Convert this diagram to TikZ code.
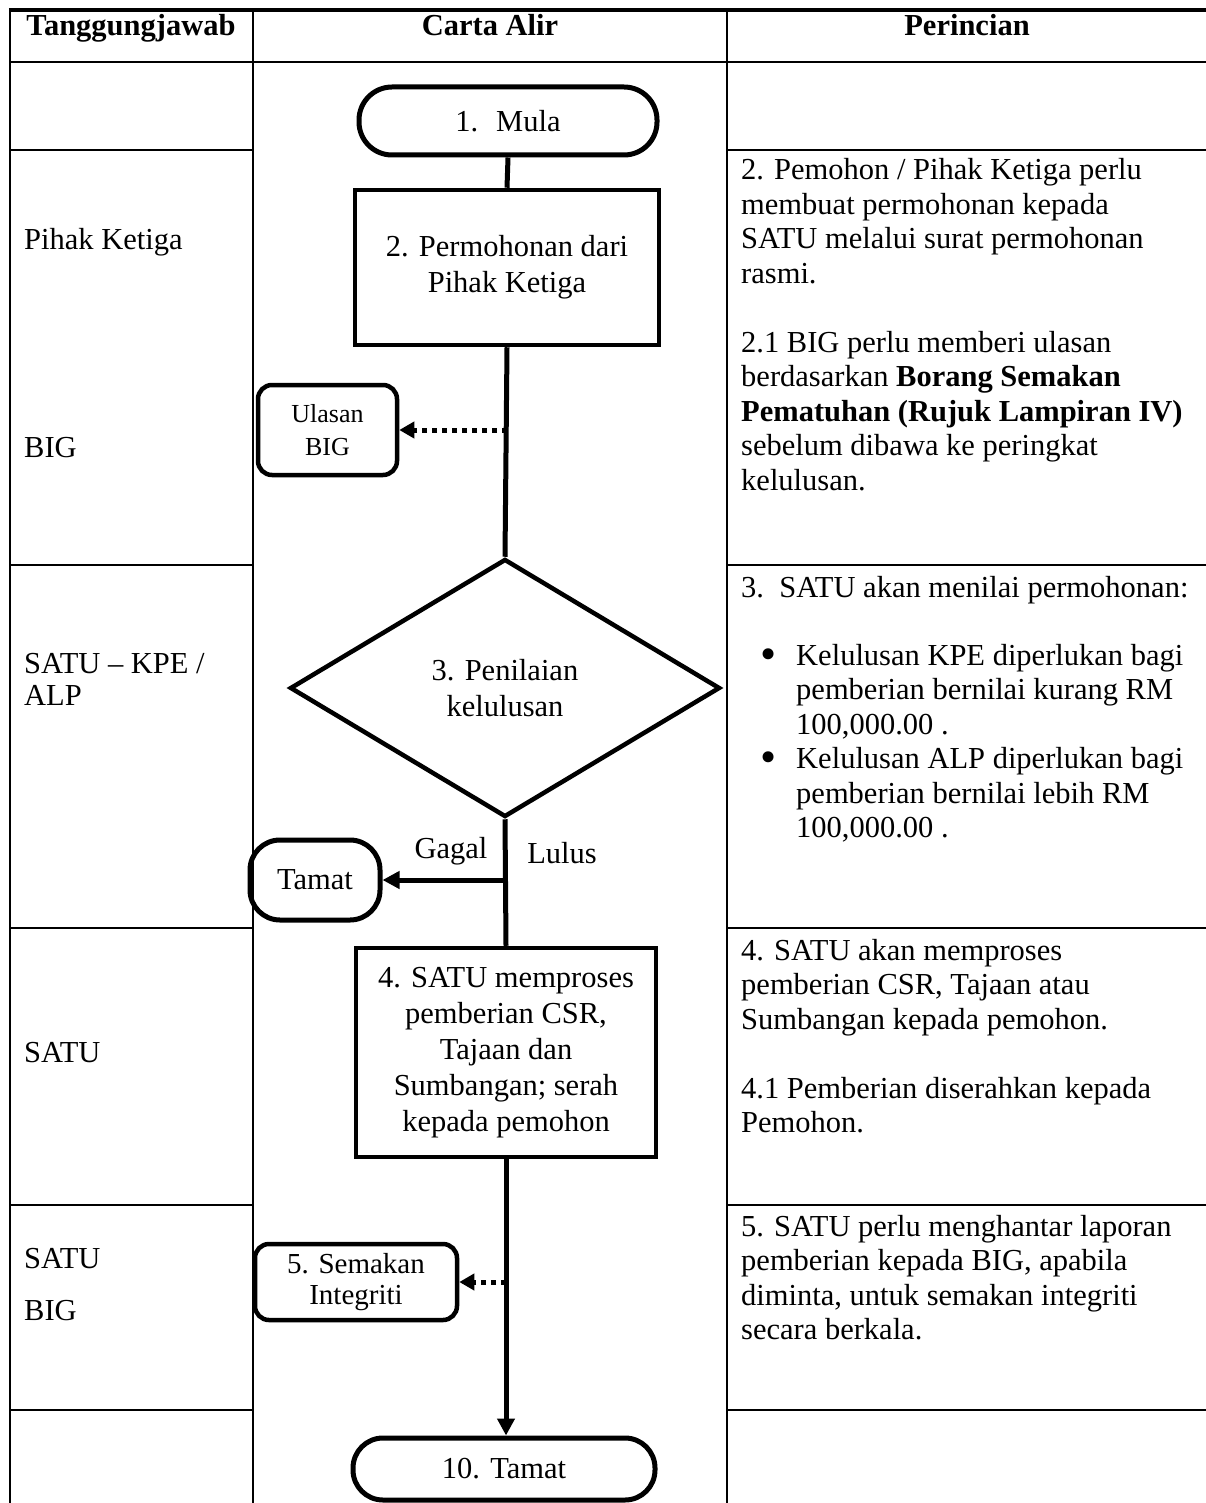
\documentclass[tikz,border=0pt]{standalone}
\usepackage{fontspec}
\setmainfont{Liberation Serif}
\usetikzlibrary{shapes.geometric,arrows.meta}
\newcommand\mfont{\fontsize{30.5}{34.5}\selectfont}
\newcommand\cfont{\fontsize{30.5}{36}\selectfont}
\newcommand\bulitem{\leavevmode\llap{\raisebox{-4pt}{\fontsize{46}{46}\selectfont •}\hspace{20pt}}}
\begin{document}
\begin{tikzpicture}[x=1pt,y=-1pt,
  grid/.style={line width=2.5pt},
  flow/.style={line width=5pt},
  term/.style={draw, line width=5pt, rounded corners=#1, align=center, inner sep=0pt, font=\cfont},
  procbox/.style={draw, line width=4.5pt, align=center, inner sep=0pt, font=\cfont},
  lbl/.style={inner sep=0pt, font=\mfont},
  arr/.style={flow, -{Triangle[length=17pt,width=17pt]}},
  dotarr/.style={line width=5pt, dash pattern=on 5pt off 5pt, -{Triangle[length=15pt,width=16pt]}},
]
\useasboundingbox[fill=white] (0,0) rectangle (1206,1503);

% table grid
\draw[line width=3.5pt] (8.75,10) -- (1206,10);
\draw[grid] (10,10) -- (10,1503);
\draw[grid] (253,10) -- (253,1503);
\draw[grid] (727,10) -- (727,1503);
\draw[grid] (10,62) -- (1206,62);
\foreach \y in {150,565,928,1205,1410} {
  \draw[grid] (10,\y) -- (253,\y);
  \draw[grid] (727,\y) -- (1206,\y);
}

% header
\node[lbl, font=\mfont\bfseries, anchor=base] (h1) at (131,36) {Tanggungjawab};
\node[lbl, font=\mfont\bfseries, anchor=base] (h2) at (490,36) {Carta Alir};
\node[lbl, font=\mfont\bfseries, anchor=base] (h3) at (967,36) {Perincian};

% flow nodes
\node[term=33pt, minimum width=298pt, minimum height=68pt] (mula) at (508,121) {1.\hspace{18pt}Mula};
\node[procbox, minimum width=304pt, minimum height=155pt] (perm) at (507,267.5) {2. Permohonan dari\\Pihak Ketiga};
\node[term=14pt, line width=4.5pt, minimum width=139pt, minimum height=90pt, font=\fontsize{26}{33}\selectfont] (ulasan) at (327.5,430) {Ulasan\\BIG};
\node[diamond, draw, line width=4.5pt, minimum width=430pt, minimum height=258pt, inner sep=0pt, align=center, font=\cfont] (dia) at (505,688) {3. Penilaian\\kelulusan};
\node[term=30pt, minimum width=130pt, minimum height=80pt] (tamat) at (315,880) {Tamat};
\node[procbox, minimum width=300pt, minimum height=209pt] (proc) at (506,1052.5) {4. SATU memproses\\pemberian CSR,\\Tajaan dan\\Sumbangan; serah\\kepada pemohon};
\node[term=14pt, line width=4.5pt, minimum width=202pt, minimum height=76pt, font=\fontsize{29}{31}\selectfont] (semak) at (356,1282) {5. Semakan\\Integriti};
\node[term=30pt, minimum width=302pt, minimum height=62pt] (tamat10) at (504,1469) {10. Tamat};

% connectors
\draw[flow] (mula.south) -- (perm.north);
\draw[flow] (perm.south) -- (dia.north);
\coordinate (uj) at (perm.south |- ulasan.east);
\draw[dotarr] (uj) -- (ulasan.east);
\draw[flow] (dia.south) -- (proc.north);
\coordinate (gj) at (dia.south |- tamat.east);
\draw[arr] (gj) -- (tamat.east);
\node[lbl, anchor=base] (gagal) at (451,858) {Gagal};
\node[lbl, anchor=base] (lulus) at (562,863) {Lulus};
\coordinate (tj) at (proc.south |- tamat10.north);
\draw[arr] (proc.south) -- (tj);
\coordinate (sj) at (proc.south |- semak.east);
\draw[dotarr] (sj) -- (semak.east);

% left column
\node[lbl, anchor=base west] (pk) at (24,250) {Pihak Ketiga};
\node[lbl, anchor=base west] (lbig) at (24,457) {BIG};
\node[lbl, anchor=base west] (lsatu1) at (24,673) {\parbox[t]{220pt}{\fontsize{30.5}{32}\selectfont SATU – KPE /\\ALP}};
\node[lbl, anchor=base west] (lsatu2) at (24,1062) {SATU};
\node[lbl, anchor=base west] (lsatu3) at (24,1268) {SATU};
\node[lbl, anchor=base west] (lbig2) at (24,1320) {BIG};

% right column
\node[lbl, anchor=base west] (p2) at (741,180) {\parbox[t]{470pt}{\raggedright
2. Pemohon / Pihak Ketiga perlu\\
membuat permohonan kepada\\
SATU melalui surat permohonan\\
rasmi.\\[34.5pt]
2.1 BIG perlu memberi ulasan\\
berdasarkan \textbf{Borang Semakan}\\
\textbf{Pematuhan (Rujuk Lampiran IV)}\\
sebelum dibawa ke peringkat\\
kelulusan.}};
\node[lbl, anchor=base west] (p3) at (741,597) {3.\ \ SATU akan menilai permohonan:};
\node[lbl, anchor=base west] (p3b) at (796,665) {\parbox[t]{400pt}{\raggedright
\bulitem Kelulusan KPE diperlukan bagi\\
pemberian bernilai kurang RM\\
100,000.00 .\\
\bulitem Kelulusan ALP diperlukan bagi\\
pemberian bernilai lebih RM\\
100,000.00 .}};
\node[lbl, anchor=base west] (p4) at (741,960) {\parbox[t]{470pt}{\raggedright
4. SATU akan memproses\\
pemberian CSR, Tajaan atau\\
Sumbangan kepada pemohon.\\[34.5pt]
4.1 Pemberian diserahkan kepada\\
Pemohon.}};
\node[lbl, anchor=base west] (p5) at (741,1236) {\parbox[t]{470pt}{\raggedright
5. SATU perlu menghantar laporan\\
pemberian kepada BIG, apabila\\
diminta, untuk semakan integriti\\
secara berkala.}};
\end{tikzpicture}
\end{document}
